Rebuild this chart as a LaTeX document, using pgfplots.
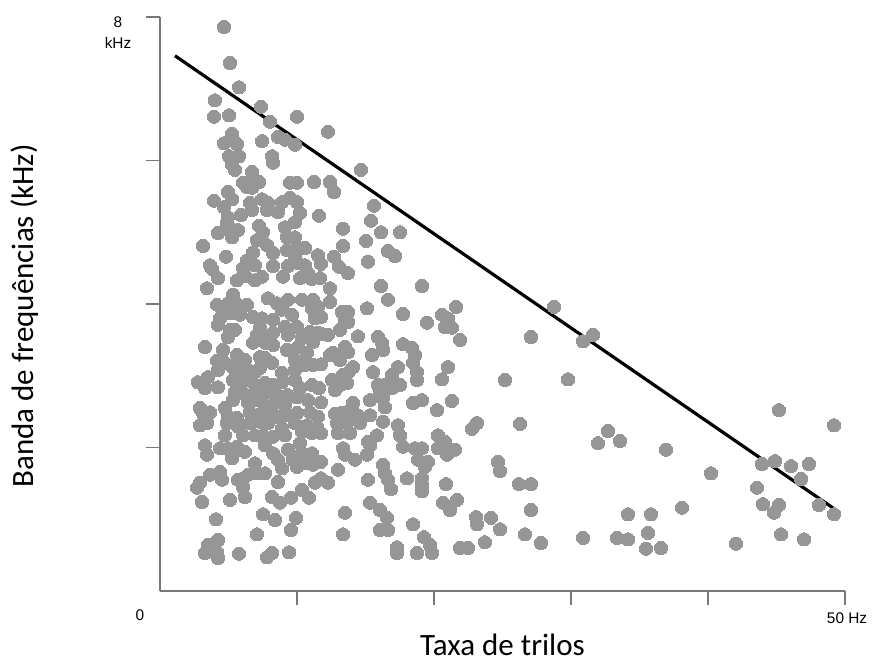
\documentclass[border=0pt]{standalone}
\usepackage{fontspec}
\setmainfont{Carlito}
\newfontfamily\arialf{Liberation Sans}
\usepackage{pgfplots}
\pgfplotsset{compat=1.18}
\definecolor{dotgray}{RGB}{150,150,150}
\definecolor{axgray}{RGB}{120,120,120}
\pgfplotstableread{
x y
4.67 7.86
5.11 7.36
5.77 7.02
4.01 6.84
3.94 6.61
5.04 6.63
7.37 6.75
8.03 6.54
10.0 6.61
5.26 6.37
4.67 6.24
5.62 6.23
7.45 6.27
8.61 6.33
9.12 6.29
9.85 6.22
12.26 6.40
14.67 5.87
5.04 6.06
5.77 6.06
8.18 6.06
8.25 5.97
5.26 5.94
5.47 5.87
6.72 5.84
6.06 5.69
6.57 5.70
7.23 5.70
6.35 5.63
6.72 5.62
9.49 5.69
10.0 5.69
11.24 5.70
4.96 5.56
3.94 5.44
5.26 5.46
7.45 5.46
7.88 5.41
6.57 5.41
6.72 5.31
8.91 5.42
9.49 5.48
10.0 5.42
4.67 5.35
7.81 5.31
8.61 5.28
10.22 5.27
4.96 5.21
5.91 5.24
11.61 5.23
4.89 5.13
5.11 5.06
7.23 5.09
7.52 5.00
9.85 5.14
9.12 5.07
4.23 4.99
5.26 4.93
5.69 5.03
7.08 4.89
9.27 4.93
9.85 4.93
3.14 4.81
7.81 4.82
8.25 4.71
9.27 4.75
10.0 4.78
10.58 4.78
6.79 4.72
6.35 4.61
4.82 4.66
9.85 4.66
10.07 4.57
11.53 4.68
11.75 4.56
3.65 4.54
3.80 4.49
6.06 4.50
6.93 4.54
8.25 4.53
9.34 4.53
10.58 4.54
10.80 4.43
4.23 4.36
5.62 4.33
6.20 4.39
6.93 4.33
7.45 4.38
8.98 4.38
10.22 4.36
11.09 4.35
3.43 4.22
12.41 5.70
12.70 5.56
15.62 5.37
15.40 5.16
16.13 5.00
17.52 5.00
13.36 5.05
15.04 4.88
13.36 4.81
16.64 4.74
17.15 4.67
12.70 4.66
13.07 4.52
13.72 4.43
15.18 4.59
11.68 4.36
12.41 4.22
16.13 4.25
19.12 4.25
5.33 4.13
4.96 4.01
7.88 4.08
8.54 4.01
9.34 4.06
10.36 4.06
11.17 4.06
11.53 3.96
11.09 3.94
4.16 3.99
5.69 3.99
6.35 3.99
8.91 3.92
9.64 3.85
4.60 3.85
4.38 3.80
5.26 3.87
5.84 3.85
6.79 3.82
7.45 3.80
8.25 3.78
11.31 3.80
11.75 3.82
4.23 3.71
5.11 3.64
5.47 3.64
4.96 3.54
7.30 3.67
7.08 3.57
7.45 3.53
9.12 3.68
10.0 3.68
8.25 3.60
10.95 3.61
11.53 3.60
9.34 3.57
10.36 3.53
11.17 3.47
11.82 3.58
6.79 3.46
7.66 3.46
3.28 3.40
8.25 3.43
4.60 3.36
9.27 3.36
10.07 3.40
10.73 3.32
5.62 3.29
5.69 3.19
6.20 3.22
4.16 3.21
4.74 3.18
7.30 3.26
7.66 3.25
8.18 3.18
9.85 3.22
10.58 3.15
11.17 3.15
4.23 3.08
5.33 3.11
5.84 3.04
6.42 3.08
6.93 3.05
7.30 3.11
8.91 3.04
9.85 3.08
11.75 3.16
2.77 2.91
3.50 2.98
3.28 2.83
4.23 2.84
5.33 2.94
5.99 2.91
6.57 2.94
6.93 2.87
7.66 2.90
8.25 2.87
8.91 2.91
9.85 2.94
10.22 2.83
11.09 2.87
11.61 2.83
5.47 2.77
6.06 2.76
6.72 2.73
7.30 2.77
7.81 2.77
8.61 2.73
9.34 2.73
10.0 2.70
5.33 2.66
6.42 2.63
7.08 2.66
7.66 2.59
8.39 2.62
9.12 2.59
10.80 2.66
11.75 2.63
2.92 2.55
3.14 2.48
3.65 2.49
4.74 2.55
4.96 2.43
5.62 2.41
6.57 2.49
7.15 2.45
7.88 2.48
8.54 2.43
9.27 2.45
10.0 2.48
10.95 2.49
11.53 2.43
13.28 3.89
13.72 3.89
13.50 3.78
12.41 4.03
16.64 4.06
15.11 3.94
17.74 3.86
21.61 3.96
19.49 3.74
20.58 3.85
21.02 3.80
20.80 3.68
21.31 3.67
13.72 3.75
13.14 3.64
12.26 3.57
14.45 3.55
15.91 3.54
16.20 3.46
16.28 3.36
21.90 3.50
17.74 3.44
18.39 3.39
18.61 3.29
18.47 3.18
18.76 3.05
18.76 2.94
13.50 3.40
13.72 3.33
12.41 3.29
12.63 3.32
13.14 3.22
15.47 3.29
14.09 3.12
17.37 3.12
21.02 3.12
15.55 3.05
16.93 3.01
20.58 2.95
13.36 3.01
13.72 3.04
12.55 2.94
12.77 2.80
13.14 2.87
13.65 2.90
15.91 2.87
16.42 2.87
16.06 2.77
16.93 2.83
17.52 2.87
15.33 2.66
16.28 2.69
16.42 2.56
18.47 2.62
19.12 2.66
21.31 2.65
20.22 2.52
14.09 2.62
13.87 2.52
12.77 2.47
13.28 2.48
13.65 2.45
14.45 2.45
15.33 2.45
2.92 2.31
3.43 2.34
4.89 2.34
5.69 2.29
6.57 2.34
7.30 2.36
7.88 2.34
8.91 2.27
9.85 2.34
10.73 2.31
11.46 2.29
4.74 2.17
6.06 2.17
6.93 2.17
7.52 2.17
8.25 2.15
9.12 2.17
10.36 2.22
11.09 2.20
11.75 2.20
3.28 2.03
3.43 1.90
4.38 1.99
4.96 1.99
5.62 2.01
6.20 1.94
5.26 1.85
7.66 2.03
8.25 1.92
8.61 1.83
8.91 1.71
9.34 1.97
9.71 1.83
10.22 2.06
10.36 1.92
11.09 1.92
10.0 1.73
10.58 1.78
11.17 1.76
11.75 1.80
6.93 1.78
3.65 1.62
4.38 1.66
4.53 1.55
2.92 1.51
2.70 1.44
5.69 1.55
6.06 1.57
6.42 1.62
7.08 1.64
7.66 1.64
6.06 1.45
8.61 1.52
10.36 1.41
11.31 1.51
11.75 1.57
3.07 1.24
5.11 1.27
6.20 1.31
8.18 1.31
8.76 1.23
9.56 1.30
10.88 1.30
4.09 1.00
7.52 1.07
8.39 0.99
9.93 1.02
9.56 0.85
7.08 0.79
3.50 0.64
4.23 0.71
3.28 0.53
4.16 0.54
4.23 0.46
5.77 0.52
7.81 0.47
8.18 0.53
9.42 0.54
12.92 2.34
13.65 2.34
14.60 2.34
16.28 2.36
17.37 2.31
17.52 2.17
12.99 2.20
13.87 2.20
15.18 2.08
15.84 2.17
15.33 2.03
17.74 2.01
18.61 1.99
19.12 1.99
20.29 2.17
20.80 2.08
20.29 1.99
20.95 1.90
21.53 1.97
13.36 1.99
13.50 1.90
14.23 1.83
15.11 1.90
18.83 1.83
19.56 1.80
19.34 1.73
12.99 1.69
16.28 1.76
16.42 1.64
16.64 1.55
16.86 1.42
15.18 1.55
18.03 1.57
19.12 1.57
19.12 1.48
19.12 1.39
12.26 1.51
20.88 1.49
15.33 1.23
13.50 1.09
16.06 1.13
16.57 1.02
16.64 0.85
16.06 0.85
18.47 0.93
20.66 1.23
21.17 1.13
21.68 1.27
13.36 0.79
19.27 0.75
19.71 0.64
19.85 0.53
17.30 0.61
17.30 0.53
18.76 0.53
21.90 0.60
22.48 0.60
28.76 3.96
27.08 3.54
30.88 3.48
31.61 3.57
25.18 2.94
29.78 2.95
22.77 2.26
23.14 2.34
26.28 2.33
32.70 2.23
31.97 2.06
33.58 2.09
24.67 1.80
24.82 1.67
26.20 1.49
27.08 1.49
27.08 1.13
23.07 1.03
23.14 0.93
24.16 1.02
24.82 0.86
26.64 0.79
27.81 0.67
23.72 0.68
30.88 0.74
33.36 0.74
34.16 0.72
34.16 1.07
35.84 1.07
35.62 0.81
35.47 0.59
45.18 2.52
49.20 2.31
36.93 1.97
40.22 1.64
43.94 1.77
44.89 1.81
46.06 1.74
47.37 1.77
46.79 1.56
43.58 1.44
44.01 1.21
45.18 1.20
44.82 1.09
48.10 1.20
49.20 1.07
38.10 1.16
45.33 0.79
47.01 0.72
42.04 0.66
36.57 0.60
}\pointdata
\begin{document}
\begin{tikzpicture}
\useasboundingbox (-80pt,-35.5pt) rectangle (356.5pt,295.5pt);
\begin{axis}[
  at={(0pt,0pt)}, anchor=south west,
  scale only axis, width=342.5pt, height=287pt,
  xmin=0, xmax=50, ymin=0, ymax=8,
  axis x line*=bottom, axis y line*=left,
  axis line style={axgray, line width=0.9pt},
  xtick={10,20,30,40,50}, ytick={2,4,6,8},
  xticklabels={}, yticklabels={},
  tick align=outside, major tick length=7pt,
  every tick/.style={axgray, line width=0.9pt},
  clip=false,
  xlabel={Taxa de trilos},
  ylabel={Banda de frequências (kHz)},
  xlabel style={at={(axis description cs:0.5,-0.094)}, anchor=center, font=\fontsize{15.5}{18}\selectfont},
  ylabel style={at={(axis description cs:-0.197,0.479)}, anchor=center, font=\fontsize{15.5}{18}\selectfont},
]
\addplot[dotgray, only marks, mark=*, mark size=3.3pt, mark options={fill=dotgray, draw=dotgray, line width=0pt}] table[x=x, y=y] {\pointdata};
\addplot[black, line width=1.6pt, no marks] coordinates {(1.09,7.46) (49.56,1.10)};
\node[font=\arialf\fontsize{7.7}{9}\selectfont, anchor=center] at (axis description cs:-0.0292,-0.0418) {0};
\node[font=\arialf\fontsize{7.7}{10.5}\selectfont, align=center, anchor=center] at (axis description cs:-0.0613,0.973) {8\\kHz};
\node[font=\arialf\fontsize{7.7}{9}\selectfont, anchor=center] at (axis description cs:1.003,-0.047) {50 Hz};
\end{axis}
\end{tikzpicture}
\end{document}
